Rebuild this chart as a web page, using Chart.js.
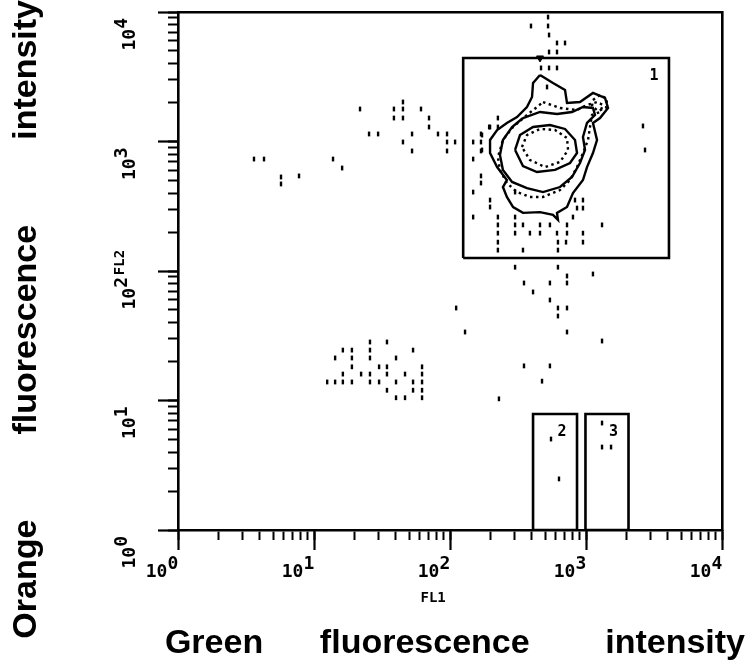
<!DOCTYPE html>
<html>
<head>
<meta charset="utf-8">
<script src="https://cdn.jsdelivr.net/npm/chart.js@4.4.0/dist/chart.umd.min.js"></script>
<style>
  html, body { margin: 0; padding: 0; background: #fff; }
</style>
</head>
<body>
<canvas id="cytoChart" width="745" height="668"></canvas>
<script>
// ─── FL1 / FL2 contour plot with gates ───

// Axis decades and their exponent labels
const DECADES = [1, 10, 100, 1000, 10000];
const DECADE_EXPONENTS = ['0', '1', '2', '3', '4'];

// Gates (FL1 = green, FL2 = orange)
const GATE_NAMES = ['1', '2', '3'];
const GATE_FL1_LOW = [125, 408, 991];
const GATE_FL1_HIGH = [4074, 859, 2054];
const GATE_FL2_LOW = [126, 1, 1];
const GATE_FL2_HIGH = [4416, 7.87, 7.87];
const GATE1_MARKER = [[459, 4416]];

// Contour levels, [FL1, FL2]
const CONTOUR_OUTER = [
    [459, 3265], [572, 2831], [701, 2500], [725, 1983], [903, 2018], [1125, 2370], [1380, 2168],
    [1452, 1814], [1268, 1518], [1125, 1390], [1205, 1027], [1125, 815], [1017, 635], [950, 504],
    [802, 400], [725, 312], [612, 281], [622, 248], [572, 271], [459, 285], [344, 281], [291, 312],
    [262, 373], [245, 445], [262, 504], [222, 635], [197, 815], [197, 1027], [222, 1227],
    [262, 1390], [311, 1546], [368, 1847], [401, 2206], [408, 2831]
];
const CONTOUR_2 = [
    [483, 2018], [644, 1815], [859, 1750], [1017, 1914], [1205, 2018], [1334, 1914], [1268, 1690],
    [1107, 1603], [1070, 1294], [1035, 1027], [950, 815], [859, 635], [763, 504], [644, 422],
    [483, 373], [387, 373], [311, 407], [262, 478], [233, 603], [225, 759], [245, 1027],
    [291, 1294], [368, 1603], [436, 1847]
];
const CONTOUR_3 = [
    [344, 1518], [459, 1690], [612, 1630], [789, 1690], [950, 1847], [1125, 1815], [1165, 1603],
    [1017, 1390], [950, 1083], [984, 860], [903, 682], [789, 532], [644, 445], [483, 407],
    [368, 437], [286, 487], [245, 603], [233, 787], [245, 1027], [286, 1294]
];
const CONTOUR_4 = [
    [301, 860], [327, 1122], [408, 1294], [543, 1341], [701, 1250], [830, 1027], [859, 815],
    [763, 682], [592, 603], [436, 581], [344, 647]
];
const CONTOUR_5 = [
    [338, 907], [368, 1122], [459, 1250], [592, 1227], [725, 1064], [738, 860], [644, 695],
    [500, 635], [387, 720]
];
const CONTOUR_TAIL = [
    [1125, 2091], [1268, 2286], [1427, 2130], [1403, 1815], [1225, 1721], [1107, 1881]
];

// Single events, [FL1, FL2]
const EVENTS_TOP = [
    [526, 9141], [394, 7798], [526, 7798], [535, 6643], [612, 5765], [701, 5765], [535, 4910],
    [612, 4910], [467, 3698], [535, 3698], [612, 3698], [517, 2636]
];
const EVENTS_UPPER_LEFT = [
    [21.8, 1782], [38.7, 1782], [45.1, 2018], [45.1, 1782], [38.7, 1518], [45.1, 1518],
    [61.2, 1782], [70.1, 1518], [70.1, 1294], [25.4, 1143], [29.6, 1143], [52.6, 1143],
    [81.6, 1143], [95.1, 1143], [45.1, 991], [95.1, 991], [109, 991], [52.6, 845], [95.1, 845],
    [13.8, 732], [16.1, 624], [3.62, 732], [4.29, 732], [5.72, 532], [7.76, 542], [5.72, 470]
];
const EVENTS_GATE1 = [
    [148, 991], [169, 1143], [169, 991], [169, 845], [148, 732], [169, 542], [169, 478],
    [194, 1294], [225, 1518], [225, 1294], [197, 1294], [172, 1122], [172, 860], [148, 407],
    [197, 353], [197, 312], [148, 261], [225, 261], [301, 261], [225, 227], [301, 227],
    [344, 227], [459, 227], [543, 227], [725, 227], [802, 261], [830, 353], [950, 353],
    [950, 306], [859, 306], [1312, 227], [225, 196], [301, 196], [387, 196], [459, 196],
    [612, 196], [725, 196], [950, 196], [225, 167], [344, 145], [622, 167], [622, 145],
    [950, 167], [225, 145], [713, 167], [2716, 860], [2624, 1318], [301, 407]
];
const EVENTS_LOWER = [
    [301, 107], [622, 107], [725, 91.5], [1125, 94.8], [350, 80.8], [543, 80.8], [725, 80.8],
    [408, 68.9], [543, 59.7], [111, 51.8], [622, 51.8], [725, 51.8], [622, 44.9], [129, 33.8],
    [725, 33.8], [1312, 28.8], [350, 18.5], [543, 18.5], [475, 14.1], [229, 10.3],
    [553, 5.04], [633, 2.48], [1312, 6.70], [1312, 4.37], [1528, 4.37]
];
const EVENTS_LOW_CLUSTER = [
    [25.8, 28.3], [34.4, 28.3], [16.3, 24.5], [19.0, 24.5], [25.8, 24.5], [53.5, 24.5],
    [14.3, 21.3], [19.0, 21.3], [25.8, 21.3], [40.1, 21.3], [19.0, 18.2], [30.1, 18.2],
    [34.4, 18.2], [62.3, 18.2], [16.3, 16.0], [22.2, 16.0], [25.8, 16.0], [34.4, 16.0],
    [46.7, 16.0], [62.3, 16.0], [12.5, 13.9], [14.3, 13.9], [16.3, 13.9], [19.0, 13.9],
    [25.8, 13.9], [30.1, 13.9], [40.1, 13.9], [53.5, 13.9], [62.3, 13.9], [34.4, 12.0],
    [53.5, 12.0], [62.3, 12.0], [40.1, 10.5], [46.7, 10.5], [62.3, 10.5]
];

const INK = '#000';
const MONO = 'DejaVu Sans Mono';
const SANS = 'Liberation Sans';

const toPoints = pairs => pairs.map(([fl1, fl2]) => ({ x: fl1, y: fl2 }));
const closed = pairs => toPoints(pairs.concat([pairs[0]]));

function contourSet(label, pairs, dotted) {
    return {
        label,
        data: closed(pairs),
        showLine: true,
        borderColor: INK,
        borderWidth: 2.4,
        borderDash: dotted ? [2.5, 3.5] : [],
        pointRadius: 0,
        tension: 0,
        fill: false
    };
}

function eventSet(label, pairs) {
    return {
        label,
        data: toPoints(pairs),
        showLine: false,
        pointStyle: 'line',
        rotation: 90,
        pointRadius: 2.4,
        borderWidth: 2.4,
        borderColor: INK,
        backgroundColor: INK
    };
}

const gateSets = GATE_NAMES.map((name, i) => ({
    label: 'Gate ' + name,
    data: [
        { x: GATE_FL1_LOW[i], y: GATE_FL2_LOW[i] },
        { x: GATE_FL1_HIGH[i], y: GATE_FL2_LOW[i] },
        { x: GATE_FL1_HIGH[i], y: GATE_FL2_HIGH[i] },
        { x: GATE_FL1_LOW[i], y: GATE_FL2_HIGH[i] },
        { x: GATE_FL1_LOW[i], y: GATE_FL2_LOW[i] }
    ],
    showLine: true,
    borderColor: INK,
    borderWidth: 2.6,
    pointRadius: 0,
    tension: 0,
    fill: false
}));

// Only keep 1..9 x 10^n ticks (drop the 15, 150 ... steps)
function keepWholeSteps(scale) {
    scale.ticks = scale.ticks.filter(t => {
        const s = t.value / Math.pow(10, Math.floor(Math.log10(t.value) + 1e-9));
        return Math.abs(s - Math.round(s)) < 1e-6;
    });
}
function keepDecades(scale) {
    scale.ticks = DECADES.map(v => ({ value: v, major: true }));
}
function decadeLabel(value) {
    const i = DECADES.indexOf(value);
    if (i < 0) return '';
    return ['  ' + DECADE_EXPONENTS[i], '10 '];
}
// fixed box sizes, and no label overhang pushing the plot area in
function fixBox(w, h) {
    return s => {
        if (w !== null) s.width = w;
        if (h !== null) s.height = h;
        s.paddingLeft = s.paddingRight = s.paddingTop = s.paddingBottom = 0;
    };
}

const tickFont = { family: MONO, size: 18, weight: 'bold', lineHeight: '8px' };
const axisBorder = { display: true, color: INK, width: 2.6 };
const minorGrid = { display: true, drawOnChartArea: false, drawTicks: true, tickLength: 10, tickWidth: 2, tickColor: INK };
const majorGrid = { display: true, drawOnChartArea: false, drawTicks: true, tickLength: 20, tickWidth: 2.2, tickColor: INK };

const gateLabels = {
    id: 'gateLabels',
    afterDatasetsDraw(chart) {
        const { ctx, scales: { x, y } } = chart;
        ctx.save();
        ctx.font = `bold 15px "${MONO}"`;
        ctx.fillStyle = INK;
        ctx.textAlign = 'center';
        ctx.textBaseline = 'middle';
        GATE_NAMES.forEach((name, i) => {
            ctx.fillText(name, x.getPixelForValue(GATE_FL1_HIGH[i]) - 15, y.getPixelForValue(GATE_FL2_HIGH[i]) + 18);
        });
        ctx.restore();
    }
};

new Chart(document.getElementById('cytoChart'), {
    type: 'scatter',
    data: {
        datasets: [
            ...gateSets,
            contourSet('outer', CONTOUR_OUTER, false),
            contourSet('level 2', CONTOUR_2, true),
            contourSet('level 3', CONTOUR_3, false),
            contourSet('level 4', CONTOUR_4, false),
            contourSet('level 5', CONTOUR_5, true),
            contourSet('tail', CONTOUR_TAIL, true),
            {
                label: 'gate marker',
                data: toPoints(GATE1_MARKER),
                pointStyle: 'triangle',
                rotation: 180,
                pointRadius: 4,
                borderWidth: 1,
                borderColor: INK,
                backgroundColor: INK
            },
            eventSet('top', EVENTS_TOP),
            eventSet('upper left', EVENTS_UPPER_LEFT),
            eventSet('gate 1', EVENTS_GATE1),
            eventSet('lower', EVENTS_LOWER),
            eventSet('low cluster', EVENTS_LOW_CLUSTER)
        ]
    },
    options: {
        responsive: false,
        animation: false,
        layout: { padding: 0 },
        plugins: {
            legend: { display: false },
            tooltip: { enabled: false },
            title: {
                display: true,
                position: 'left',
                align: 'end',
                text: 'Orange         fluorescence         intensity',
                color: INK,
                font: { family: SANS, size: 34, weight: 'bold' },
                padding: { top: 6, bottom: 3 }
            },
            subtitle: {
                display: true,
                position: 'bottom',
                align: 'end',
                text: 'Green      fluorescence        intensity',
                color: INK,
                font: { family: SANS, size: 34, weight: 'bold' },
                padding: { top: 0, bottom: 4 }
            }
        },
        scales: {
            x: {
                type: 'logarithmic',
                position: 'bottom',
                min: 1,
                max: 10000,
                afterBuildTicks: keepWholeSteps,
                afterFit: fixBox(null, 93.2),
                border: axisBorder,
                grid: minorGrid,
                ticks: {
                    autoSkip: false,
                    maxRotation: 0,
                    padding: 20,
                    labelOffset: -16,
                    color: INK,
                    font: tickFont,
                    callback: decadeLabel
                },
                title: {
                    display: true,
                    text: 'FL1    ',
                    color: INK,
                    font: { family: MONO, size: 14, weight: 'bold' },
                    padding: { top: 0, bottom: 16 }
                }
            },
            y: {
                type: 'logarithmic',
                position: 'left',
                min: 1,
                max: 10000,
                afterBuildTicks: keepWholeSteps,
                afterFit: fixBox(128.2, null),
                border: axisBorder,
                grid: minorGrid,
                ticks: {
                    autoSkip: false,
                    minRotation: 90,
                    maxRotation: 90,
                    padding: 42,
                    labelOffset: 6,
                    color: INK,
                    font: tickFont,
                    callback: decadeLabel
                },
                title: {
                    display: true,
                    text: '  FL2',
                    color: INK,
                    font: { family: MONO, size: 14, weight: 'bold' },
                    padding: { top: 62, bottom: 0 }
                }
            },
            xMajor: {
                type: 'logarithmic',
                position: 'bottom',
                weight: -1,
                min: 1,
                max: 10000,
                afterBuildTicks: keepDecades,
                afterFit: fixBox(null, 0),
                border: { display: false },
                grid: majorGrid,
                ticks: { display: false }
            },
            yMajor: {
                type: 'logarithmic',
                position: 'left',
                weight: -1,
                min: 1,
                max: 10000,
                afterBuildTicks: keepDecades,
                afterFit: fixBox(0, null),
                border: { display: false },
                grid: majorGrid,
                ticks: { display: false }
            },
            xTop: {
                type: 'logarithmic',
                position: 'top',
                min: 1,
                max: 10000,
                afterFit: fixBox(null, 12),
                border: axisBorder,
                grid: { display: false },
                ticks: { display: false }
            },
            yRight: {
                type: 'logarithmic',
                position: 'right',
                min: 1,
                max: 10000,
                afterFit: fixBox(23, null),
                border: axisBorder,
                grid: { display: false },
                ticks: { display: false }
            }
        }
    },
    plugins: [gateLabels]
});
</script>
</body>
</html>
